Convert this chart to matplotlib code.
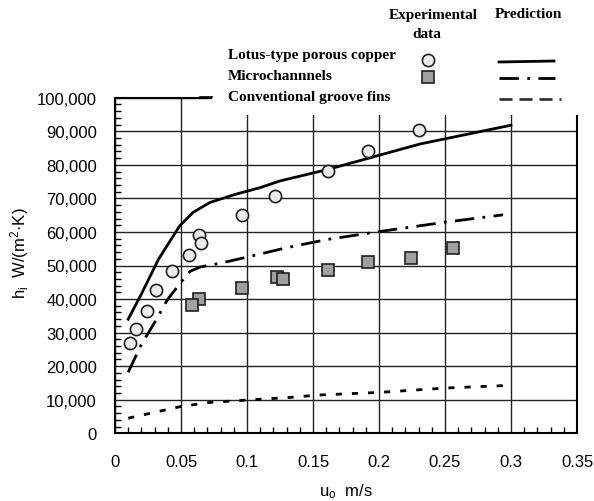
import matplotlib
matplotlib.use("Agg")
import matplotlib.pyplot as plt
from matplotlib.lines import Line2D
from matplotlib.patches import Rectangle
from matplotlib.ticker import FuncFormatter, MultipleLocator

plt.rcParams['font.family'] = ['Liberation Sans', 'DejaVu Sans']
plt.rcParams['mathtext.default'] = 'regular'

# experimental data
lotus_u = [0.011, 0.016, 0.024, 0.031, 0.043, 0.056, 0.064, 0.065, 0.096, 0.121, 0.161, 0.192, 0.230]
lotus_h = [26800, 31100, 36300, 42800, 48400, 53200, 59100, 56600, 65000, 70600, 78200, 84000, 90400]
micro_u = [0.064, 0.058, 0.096, 0.123, 0.127, 0.161, 0.192, 0.224, 0.256]
micro_h = [39900, 38300, 43300, 46500, 46000, 48600, 50900, 52200, 55300]

# predictions
lotus_pred_u = [0.010, 0.020, 0.033, 0.049, 0.059, 0.072, 0.092, 0.110, 0.125, 0.161, 0.231, 0.300]
lotus_pred_h = [34000, 41500, 51900, 61800, 65800, 68800, 71300, 73200, 75200, 78600, 86200, 91800]
micro_pred_u = [0.010, 0.020, 0.030, 0.040, 0.050, 0.057, 0.065, 0.080, 0.100, 0.130, 0.160, 0.200, 0.250, 0.294]
micro_pred_h = [18200, 26500, 33000, 40000, 45000, 48300, 49600, 50700, 52500, 55300, 57700, 60100, 62900, 65100]
conv_pred_u = [0.010, 0.034, 0.050, 0.072, 0.100, 0.133, 0.154, 0.201, 0.251, 0.300]
conv_pred_h = [4500, 6600, 8000, 9200, 9900, 10700, 11400, 12200, 13500, 14300]

W, H = 594, 502
fig = plt.figure(figsize=(W / 100, H / 100), dpi=100)
ax = fig.add_axes([115 / W, 1 - 434.3 / H, (577 - 115) / W, (434.3 - 98.7) / H])


def fx(px):
    return px / W


def fy(py):
    return 1 - py / H


lw = 2.0
ax.plot(lotus_pred_u, lotus_pred_h, color='black', lw=lw, zorder=3)
ax.plot(micro_pred_u, micro_pred_h, color='black', lw=lw, dashes=(7, 3, 1, 3), zorder=3)
ax.plot(conv_pred_u, conv_pred_h, color='black', lw=lw, dashes=(2.2, 3.6), zorder=3)
ax.plot(micro_u, micro_h, 's', ms=9, mfc='#a0a0a0', mec='#202020', mew=1.2, zorder=4)
ax.plot(lotus_u, lotus_h, 'o', ms=8.8, mfc='#ebebeb', mec='#202020', mew=1.2, zorder=5)

ax.set_xlim(0, 0.35)
ax.set_ylim(0, 100000)
ax.xaxis.set_major_locator(MultipleLocator(0.05))
ax.xaxis.set_minor_locator(MultipleLocator(0.01))
ax.yaxis.set_major_locator(MultipleLocator(10000))
ax.yaxis.set_minor_locator(MultipleLocator(2000))
ax.xaxis.set_major_formatter(FuncFormatter(lambda v, p: '0' if v == 0 else ('%g' % round(v, 2))))
ax.yaxis.set_major_formatter(FuncFormatter(lambda v, p: '{:,}'.format(int(round(v)))))
ax.tick_params(which='both', direction='in', labelsize=12)
ax.tick_params(which='major', length=0, pad=13)
ax.tick_params(axis='x', which='major', pad=15)
ax.tick_params(which='minor', length=4, width=1)
ax.grid(True, which='major', color='#222222', lw=1.0)
ax.set_axisbelow(True)
for s in ax.spines.values():
    s.set_linewidth(1.5)

ax.set_xlabel(r'u$_\mathregular{o}$  m/s', fontsize=12, labelpad=9)
fig.text(fx(20), fy(253), r'h$_\mathregular{i}$  W/(m$^\mathregular{2}$·K)', fontsize=12,
         rotation=90, ha='center', va='center')

# white legend block covering the top right of the axes
fig.add_artist(Rectangle((fx(212), fy(116)), 1 - fx(212), 1 - fy(116),
                         transform=fig.transFigure, facecolor='white', edgecolor='none', zorder=5))

serif = dict(family=['Liberation Serif', 'DejaVu Serif'], weight='bold', fontsize=11, zorder=6)
fig.text(fx(433), fy(15), 'Experimental', ha='center', va='center', **serif)
fig.text(fx(427), fy(35), 'data', ha='center', va='center', **serif)
fig.text(fx(528), fy(15), 'Prediction', ha='center', va='center', **serif)
fig.text(fx(228), fy(56), 'Lotus-type porous copper', ha='left', va='center', **serif)
fig.text(fx(228), fy(76), 'Microchannnels', ha='left', va='center', **serif)
fig.text(fx(228), fy(97), 'Conventional groove fins', ha='left', va='center', **serif)

fig.add_artist(Line2D([fx(428)], [fy(61)], marker='o', ms=8.8, mfc='#ebebeb', mec='#202020',
                      mew=1.2, transform=fig.transFigure, zorder=6))
fig.add_artist(Line2D([fx(428)], [fy(78)], marker='s', ms=9, mfc='#a0a0a0', mec='#202020',
                      mew=1.2, transform=fig.transFigure, zorder=6))
fig.add_artist(Line2D([fx(499), fx(554)], [fy(63), fy(62)], color='black', lw=lw,
                      transform=fig.transFigure, zorder=6))
fig.add_artist(Line2D([fx(499), fx(555)], [fy(79), fy(79)], color='black', lw=lw,
                      dashes=(7, 3, 1, 3), transform=fig.transFigure, zorder=6))
fig.add_artist(Line2D([fx(499), fx(561)], [fy(100), fy(100)], color='#333333', lw=lw,
                      dashes=(4.7, 2.5), transform=fig.transFigure, zorder=6))
fig.add_artist(Line2D([fx(200), fx(212)], [fy(98), fy(98)], color='black', lw=1.2,
                      transform=fig.transFigure, zorder=6))

fig.savefig('out.png', dpi=100)
